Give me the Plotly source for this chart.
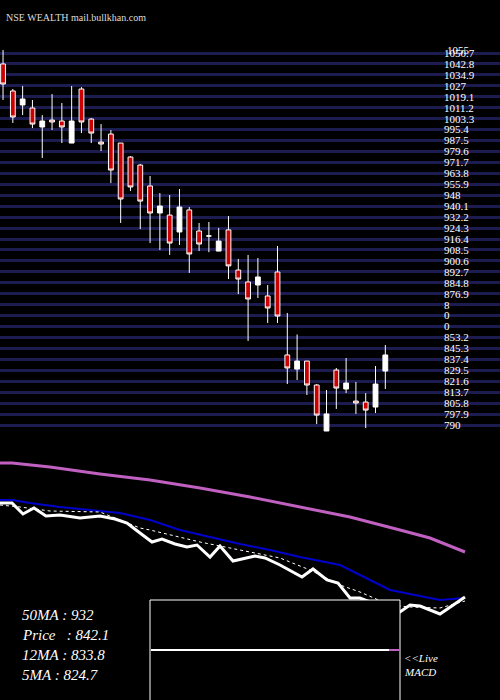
import plotly.graph_objects as go

# candles
opens = [1042.8, 1023.3, 1013.2, 1011.0, 997.3, 1002.3, 1001.6, 985.7, 1024.7, 1003.0,
         986.4, 992.2, 985.7, 975.6, 969.8, 954.7, 935.2, 933.7, 921.5, 937.4,
         922.2, 918.6, 907.7, 923.0, 894.0, 885.4, 883.2, 875.3, 892.6, 832.7,
         822.5, 828.3, 811.0, 777.8, 821.8, 808.1, 799.4, 798.7, 795.1, 821.1]
highs = [1052.9, 1024.7, 1026.9, 1016.8, 1005.9, 1021.1, 1014.6, 1026.9, 1026.1, 1003.8,
         999.4, 995.1, 985.7, 976.3, 970.6, 961.9, 949.6, 948.2, 952.5, 939.5,
         928.0, 928.7, 924.4, 933.0, 902.0, 904.9, 902.7, 883.2, 911.4, 863.0,
         847.5, 828.3, 811.7, 807.4, 823.3, 830.5, 813.2, 805.2, 824.7, 839.9]
lows = [1016.8, 1000.2, 1005.9, 996.5, 974.9, 995.1, 985.7, 985.7, 992.9, 985.7,
        979.9, 956.8, 928.0, 951.1, 923.6, 913.5, 908.5, 904.9, 912.1, 891.9,
        907.7, 906.9, 907.7, 887.5, 876.7, 842.8, 873.8, 855.8, 855.8, 811.7,
        814.6, 803.8, 782.8, 777.8, 793.7, 805.2, 790.1, 779.9, 790.8, 808.1]
closes = [1028.3, 1004.5, 1017.5, 999.4, 1001.6, 1000.9, 997.3, 1001.6, 1000.9, 992.9,
          985.0, 966.2, 945.3, 954.0, 943.8, 935.2, 940.2, 913.5, 939.5, 905.6,
          912.8, 918.6, 914.9, 897.0, 887.5, 873.1, 889.0, 866.6, 860.8, 823.3,
          828.3, 811.0, 789.3, 790.1, 808.8, 812.4, 798.0, 792.9, 811.7, 832.7]

tick_vals = [1050.7 - 7.9 * k for k in range(34)]
tick_text = ["1050.7", "1042.8", "1034.9", "1027", "1019.1", "1011.2", "1003.3", "995.4",
             "987.5", "979.6", "971.7", "963.8", "955.9", "948", "940.1", "932.2", "924.3",
             "916.4", "908.5", "900.6", "892.7", "884.8", "876.9", "8", "0", "0", "853.2",
             "845.3", "837.4", "829.5", "821.6", "813.7", "805.8", "797.9", "790"]
tick_vals = [round(1050.7 - 7.9 * k, 1) for k in range(len(tick_text))]

# moving average lines in lower panel
price_x = [0, 12, 23, 34, 46, 60, 80, 100, 115, 127, 140, 152, 162, 175, 187, 197, 210, 220,
           233, 255, 265, 280, 302, 313, 327, 338, 350, 360, 375, 390, 400, 410, 420, 440, 465]
price_v = [1030, 1030, 1008, 1020, 1004, 1006, 1000, 1004, 998, 990, 970, 952, 958, 948, 942,
           946, 922, 944, 914, 924, 920, 906, 882, 898, 876, 870, 840, 840, 828, 816, 812, 826,
           824, 808, 842]
ma12_x = [0, 12, 30, 60, 90, 120, 150, 180, 210, 240, 270, 300, 340, 360, 390, 420, 440, 465]
ma12_v = [1036, 1036, 1030, 1022, 1016, 1010, 996, 976, 962, 948, 936, 922, 906, 886, 856, 844, 836, 840]
ma5_x = [0, 20, 50, 100, 140, 150, 200, 240, 280, 310, 340, 360, 390, 410, 440, 465]
ma5_v = [1026, 1022, 1014, 1012, 980, 976, 952, 936, 920, 896, 866, 852, 826, 822, 820, 834]
ma50_x = [0, 12, 50, 100, 150, 200, 250, 300, 350, 400, 430, 465]
ma50_v = [1110, 1110, 1102, 1088, 1076, 1060, 1042, 1022, 1002, 976, 960, 932]

labels = ["50MA : 932", "Price   : 842.1", "12MA : 833.8", "5MA : 824.7"]

fig = go.Figure()
fig.add_trace(go.Candlestick(
    x=list(range(len(opens))), open=opens, high=highs, low=lows, close=closes,
    increasing=dict(fillcolor="white", line=dict(color="white", width=1)),
    decreasing=dict(fillcolor="#cc0000", line=dict(color="white", width=1)),
    whiskerwidth=0, xaxis="x", yaxis="y"))
# invisible trace to carry the price labels axis
fig.add_trace(go.Scatter(x=[0], y=[tick_vals[0]], mode="markers", marker=dict(opacity=0),
                         xaxis="x", yaxis="y3", hoverinfo="skip"))

fig.add_trace(go.Scatter(x=ma50_x, y=ma50_v, mode="lines", line=dict(color="#c060c0", width=3),
                         xaxis="x2", yaxis="y2"))
fig.add_trace(go.Scatter(x=ma12_x, y=ma12_v, mode="lines", line=dict(color="#0000cc", width=2),
                         xaxis="x2", yaxis="y2"))
fig.add_trace(go.Scatter(x=ma5_x, y=ma5_v, mode="lines", line=dict(color="white", width=1, dash="dot"),
                         xaxis="x2", yaxis="y2"))
fig.add_trace(go.Scatter(x=price_x, y=price_v, mode="lines", line=dict(color="white", width=3),
                         xaxis="x2", yaxis="y2"))

# MACD box
fig.add_shape(type="rect", xref="paper", yref="paper", x0=150 / 500, x1=400 / 500,
              y0=-0.01, y1=1 - 600 / 700, fillcolor="black", line=dict(color="white", width=1),
              layer="above")
fig.add_shape(type="line", xref="paper", yref="paper", x0=151 / 500, x1=389 / 500,
              y0=1 - 650 / 700, y1=1 - 650 / 700, line=dict(color="white", width=2), layer="above")
fig.add_shape(type="line", xref="paper", yref="paper", x0=389 / 500, x1=399 / 500,
              y0=1 - 650 / 700, y1=1 - 650 / 700, line=dict(color="#c060c0", width=2), layer="above")

serif = "Liberation Serif"
for i, t in enumerate(labels):
    fig.add_annotation(x=20 / 500, y=1 - (625 + 20 * i) / 700, xref="paper", yref="paper",
                       text="<i>" + t + "</i>", showarrow=False, xanchor="left",
                       font=dict(family=serif, size=15, color="white"))
fig.add_annotation(x=402 / 500, y=1 - 666 / 700, xref="paper", yref="paper", text="<i>&lt;&lt;Live</i>",
                   showarrow=False, xanchor="left", font=dict(family=serif, size=11, color="white"))
fig.add_annotation(x=402 / 500, y=1 - 680 / 700, xref="paper", yref="paper", text="<i>MACD</i>",
                   showarrow=False, xanchor="left", font=dict(family=serif, size=11, color="white"))
fig.add_annotation(x=4 / 500, y=1 - 10 / 700, xref="paper", yref="paper",
                   text="NSE WEALTH mail.bullkhan.com", showarrow=False, xanchor="left",
                   font=dict(family=serif, size=10, color="#dddddd"))
fig.add_annotation(x=445 / 500, y=1 - 42 / 700, xref="paper", yref="paper", text="1055",
                   showarrow=False, xanchor="left", font=dict(family=serif, size=11, color="white"))

yrange = [771.3, 1060.1]
ydomain = [1 - 440 / 700, 1 - 40 / 700]
fig.update_layout(
    width=500, height=700, margin=dict(l=0, r=0, t=0, b=0),
    paper_bgcolor="black", plot_bgcolor="black", showlegend=False,
    xaxis=dict(range=[-0.31, 50.7], domain=[0, 1], visible=False, rangeslider=dict(visible=False)),
    yaxis=dict(range=yrange, domain=ydomain, tickvals=tick_vals, showticklabels=False,
               showgrid=True, gridcolor="#1c1c50", gridwidth=3, zeroline=False, ticks=""),
    yaxis3=dict(range=yrange, overlaying="y", anchor="free", position=443 / 500, side="right",
                tickvals=tick_vals, ticktext=tick_text, showgrid=False, zeroline=False,
                showline=False, ticks="", tickfont=dict(family=serif, size=11, color="white")),
    xaxis2=dict(range=[0, 500], domain=[0, 1], anchor="y2", visible=False),
    yaxis2=dict(range=[636, 1136], domain=[0, 1 - 450 / 700], anchor="x2", visible=False),
)

fig.write_html("out.html", config={"displayModeBar": False},
               post_script="document.body.style.margin='0';")
